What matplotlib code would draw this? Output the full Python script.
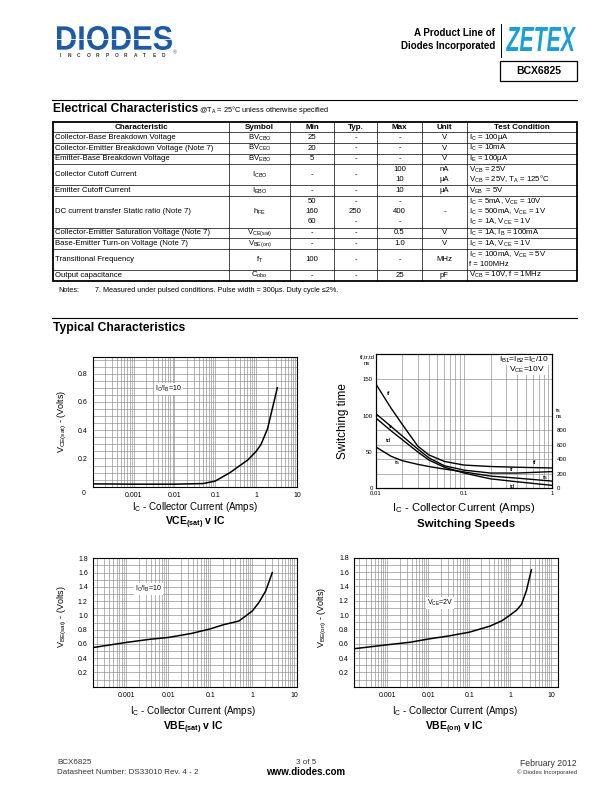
import matplotlib
matplotlib.use("Agg")
import matplotlib.pyplot as plt
import matplotlib.ticker as ticker
from matplotlib.lines import Line2D
from matplotlib.patches import Rectangle, PathPatch
from matplotlib.textpath import TextPath
from matplotlib.font_manager import FontProperties
from matplotlib.transforms import Affine2D
import numpy as np

W, H = 612, 792

# ---- Electrical characteristics table ----
col_titles = ["Characteristic", "Symbol", "Min", "Typ.", "Max", "Unit", "Test Condition"]
characteristics = [
    "Collector-Base Breakdown Voltage",
    "Collector-Emitter Breakdown Voltage (Note 7)",
    "Emitter-Base Breakdown Voltage",
    "Collector Cutoff Current",
    "Emitter Cutoff Current",
    "DC current transfer Static ratio (Note 7)",
    "Collector-Emitter Saturation Voltage (Note 7)",
    "Base-Emitter Turn-on Voltage (Note 7)",
    "Transitional Frequency",
    "Output capacitance",
]
symbols = ["BV$_{CBO}$", "BV$_{CEO}$", "BV$_{EBO}$", "I$_{CBO}$", "I$_{EBO}$",
           "h$_{FE}$", "V$_{CE(sat)}$", "V$_{BE(on)}$", "f$_T$", "C$_{obo}$"]
mins = [["25"], ["20"], ["5"], ["-"], ["-"], ["50", "160", "60"], ["-"], ["-"], ["100"], ["-"]]
typs = [["-"], ["-"], ["-"], ["-"], ["-"], ["-", "250", "-"], ["-"], ["-"], ["-"], ["-"]]
maxs = [["-"], ["-"], ["-"], ["100", "10"], ["10"], ["-", "400", "-"], ["0.5"], ["1.0"], ["-"], ["25"]]
units = [["V"], ["V"], ["V"], ["nA", "µA"], ["µA"], ["-"], ["V"], ["V"], ["MHz"], ["pF"]]
conditions = [
    ["I$_C$ = 100µA"],
    ["I$_C$ = 10mA"],
    ["I$_E$ = 100µA"],
    ["V$_{CB}$ = 25V", "V$_{CB}$ = 25V, T$_A$ = 125°C"],
    ["V$_{EB}$  = 5V"],
    ["I$_C$ = 5mA, V$_{CE}$ = 10V", "I$_C$ = 500mA, V$_{CE}$ = 1V", "I$_C$ = 1A, V$_{CE}$ = 1V"],
    ["I$_C$ = 1A, I$_B$ = 100mA"],
    ["I$_C$ = 1A, V$_{CE}$ = 1V"],
    ["I$_C$ = 100mA, V$_{CE}$ = 5V", "f = 100MHz"],
    ["V$_{CB}$ = 10V, f = 1MHz"],
]

# ---- curves ----
# VCE(sat) v IC
ic_vcesat = [1e-4, 0.001, 0.01, 0.05, 0.1, 0.23, 0.63, 1.0, 1.32, 1.9, 3.3]
vcesat = [0.02, 0.018, 0.018, 0.022, 0.04, 0.1, 0.19, 0.25, 0.3, 0.41, 0.7]

# Switching speeds (tf, tr, td on left axis, ts on right axis, ns)
ic_sw = [0.01, 0.015, 0.02, 0.03, 0.04, 0.06, 0.1, 0.2, 0.4, 1.0]
t_f = [144, 110, 88, 58, 46, 37, 32, 30, 29, 28]
t_r = [103, 85, 72, 54, 42, 31, 25, 21, 21, 23]
t_d = [97, 79, 67, 50, 39, 29, 21, 13, 9, 4]
t_s = [571, 440, 380, 330, 300, 265, 225, 168, 140, 99]

# VBE(sat) v IC
ic_vbesat = [1.7e-4, 0.001, 0.0037, 0.01, 0.035, 0.1, 0.21, 0.48, 1.0, 1.44, 2.08, 3.0]
vbesat = [0.55, 0.62, 0.665, 0.69, 0.745, 0.81, 0.87, 0.92, 1.06, 1.18, 1.34, 1.6]

# VBE(on) v IC
ic_vbeon = [1.57e-4, 0.001, 0.0036, 0.01, 0.033, 0.1, 0.32, 0.63, 1.0, 1.45, 1.9, 2.5, 3.3]
vbeon = [0.53, 0.585, 0.62, 0.665, 0.71, 0.76, 0.845, 0.92, 1.0, 1.07, 1.15, 1.34, 1.63]

decade_ticks = [1e-3, 1e-2, 1e-1, 1, 10]
decade_labels = ["0.001", "0.01", "0.1", "1", "10"]

plt.rcParams["font.family"] = ["Liberation Sans", "DejaVu Sans"]
plt.rcParams["mathtext.default"] = "regular"

fig = plt.figure(figsize=(W / 100, H / 100), dpi=100)
fig.patch.set_facecolor("white")


def fx(x):
    return x / W


def fy(y):
    return 1 - y / H


def put(x, y, s, size=6, ha="left", va="center", **kw):
    return fig.text(fx(x), fy(y), s, fontsize=size, ha=ha, va=va, **kw)


def hline(x0, x1, y, lw=0.5, color="black"):
    fig.add_artist(Line2D([fx(x0), fx(x1)], [fy(y), fy(y)], lw=lw, color=color))


def vline(x, y0, y1, lw=0.5, color="black"):
    fig.add_artist(Line2D([fx(x), fx(x)], [fy(y0), fy(y1)], lw=lw, color=color))


def logo_text(s, box, color, italic=False):
    prop = FontProperties(family="Liberation Sans", weight="bold",
                          style="italic" if italic else "normal")
    path = TextPath((0, 0), s, size=10, prop=prop)
    ext = path.get_extents()
    x0, y0, x1, y1 = box
    tr = (Affine2D().translate(-ext.x0, -ext.y0)
          .scale((x1 - x0) / ext.width / W, (y1 - y0) / ext.height / H)
          .translate(fx(x0), fy(y1)))
    fig.add_artist(PathPatch(path, transform=tr + fig.transFigure, facecolor=color, lw=0))


# ---- page header ----
logo_text("DIODES", (57, 26, 172, 50), "#1d5ba6")
hline(57, 170, 38.5, lw=0.6, color="white")
for i, ch in enumerate("INCORPORATED"):
    put(60 + i * 9.4, 55.5, ch, size=3.4, ha="center", color="#333333", weight="bold")
put(173, 53, "®", size=3.5, color="#1d5ba6")

put(495, 33, "A Product Line of", size=7, ha="right", weight="bold")
put(495, 46, "Diodes Incorporated", size=7, ha="right", weight="bold")
vline(500.5, 24, 57, lw=0.7)
logo_text("ZETEX", (506, 27, 576, 51), "#1b9fd8", italic=True)
fig.add_artist(Rectangle((fx(500), fy(81)), 77 / W, 20 / H, fill=False, lw=0.9,
                         edgecolor="black", transform=fig.transFigure))
put(538.5, 71, "BCX6825", size=7.5, ha="center", weight="bold")

# ---- Electrical characteristics ----
hline(52, 577, 100, lw=0.8)
put(53, 108.5, "Electrical Characteristics", size=8.7, weight="bold")
put(199, 109.5, "@T$_A$ = 25°C unless otherwise specified", size=5.3)

col_x = [53, 229, 290, 334, 377, 422, 467, 577]
table_top = 122.3
header_h = 10.0
line_h = 10.6
pitch = 10.0

hdr_mid = table_top + header_h / 2
for i, t in enumerate(col_titles):
    put((col_x[i] + col_x[i + 1]) / 2, hdr_mid, t, size=5.8, ha="center", weight="bold")

columns = [[[c] for c in characteristics], [[s] for s in symbols], mins, typs, maxs, units, conditions]
y = table_top + header_h
row_lines = [y]
for r in range(len(characteristics)):
    n = max(len(col[r]) for col in columns)
    h = line_h + (n - 1) * line_h
    mid = y + h / 2
    for c, col in enumerate(columns):
        cell = col[r]
        for k, txt in enumerate(cell):
            ty = mid + (k - (len(cell) - 1) / 2) * pitch
            if c in (0, 6):
                put(col_x[c] + 2, ty, txt, size=5.6)
            else:
                put((col_x[c] + col_x[c + 1]) / 2, ty, txt, size=5.6, ha="center")
    y += h
    row_lines.append(y)
table_bottom = y

for yy in row_lines[:-1]:
    hline(col_x[0], col_x[-1], yy, lw=0.5)
for xx in col_x[1:-1]:
    vline(xx, table_top, table_bottom, lw=0.5)
fig.add_artist(Rectangle((fx(col_x[0]), fy(table_bottom)), (col_x[-1] - col_x[0]) / W,
                         (table_bottom - table_top) / H, fill=False, lw=1.3,
                         edgecolor="black", transform=fig.transFigure))

put(58, table_bottom + 9.5, "Notes:", size=5.2)
put(95, table_bottom + 9.5,
    "7. Measured under pulsed conditions. Pulse width = 300µs. Duty cycle ≤2%.", size=5.2)

# ---- Typical characteristics ----
hline(52, 577, 318, lw=0.8)
put(53, 327.5, "Typical Characteristics", size=8.7, weight="bold")

GRID = dict(color="#8a8a8a", lw=0.45)


def chart(box, xlim, ylim):
    x0, y0, x1, y1 = box
    ax = fig.add_axes([fx(x0), fy(y1), (x1 - x0) / W, (y1 - y0) / H])
    ax.set_xscale("log")
    ax.set_xlim(xlim)
    ax.set_ylim(ylim)
    ax.xaxis.set_minor_locator(ticker.LogLocator(base=10, subs=np.arange(2, 10), numticks=30))
    ax.xaxis.set_minor_formatter(ticker.NullFormatter())
    ax.tick_params(which="both", length=0, labelsize=5, pad=4)
    ax.grid(which="both", axis="both", **GRID)
    ax.set_axisbelow(True)
    for s in ax.spines.values():
        s.set_linewidth(0.8)
    return ax


def decade_axis(ax):
    ax.xaxis.set_major_locator(ticker.FixedLocator(decade_ticks))
    ax.xaxis.set_major_formatter(ticker.FixedFormatter(decade_labels))


# VCE(sat) v IC
ax1 = chart((92.7, 356.7, 297, 486.7), (1e-4, 10), (0, 0.92))
decade_axis(ax1)
ax1.yaxis.set_major_locator(ticker.FixedLocator([0.2, 0.4, 0.6, 0.8]))
ax1.yaxis.set_minor_locator(ticker.MultipleLocator(0.05))
ax1.plot(ic_vcesat, vcesat, color="black", lw=1.1)
ax1.text(0.37, 0.75, "I$_C$/I$_B$=10", transform=ax1.transAxes, fontsize=5, ha="center",
         va="center", bbox=dict(facecolor="white", edgecolor="none", pad=0.8))
put(84, 493, "0", size=5, ha="center")
put(62, 421, "V$_{CE(sat)}$ - (Volts)", size=6.5, ha="center", rotation=90)
put(195, 507.5, "I$_C$ - Collector Current (Amps)", size=7, ha="center")
put(195, 522.5, "VCE$_{(sat)}$ v IC", size=7.5, ha="center", weight="bold")

# Switching speeds
ax2 = chart((375.7, 354, 552.3, 488.3), (0.01, 1), (0, 185))
ax2.xaxis.set_major_locator(ticker.FixedLocator([0.01, 0.1, 1]))
ax2.xaxis.set_major_formatter(ticker.FixedFormatter(["0.01", "0.1", "1"]))
ax2.yaxis.set_major_locator(ticker.FixedLocator([0, 50, 100, 150]))
ax2.yaxis.set_minor_locator(ticker.FixedLocator([20, 40, 60, 80]))
ax2.tick_params(which="both", labelsize=4.3, pad=2)
ax2.plot(ic_sw, t_f, color="black", lw=1.0)
ax2.plot(ic_sw, t_r, color="black", lw=1.0)
ax2.plot(ic_sw, t_d, color="black", lw=1.0)
ax2r = ax2.twinx()
ax2r.set_ylim(0, 1850)
ax2r.yaxis.set_major_locator(ticker.FixedLocator([0, 200, 400, 600, 800]))
ax2r.tick_params(length=0, labelsize=4.3, pad=3)
for s in ax2r.spines.values():
    s.set_linewidth(0.8)
ax2r.plot(ic_sw, t_s, color="black", lw=1.0)
for lbl, (px, py) in {"tf": (389, 394), "tr": (391, 426), "td": (389, 440), "ts": (397.5, 463),
                      "tf ": (535, 463), "tr ": (511.5, 469.5), "ts ": (545.5, 477.5),
                      "td ": (512.5, 486)}.items():
    put(px, py, lbl.strip(), size=4.5, ha="center")
put(549, 360, "I$_{B1}$=I$_{B2}$=I$_C$/10", size=6, ha="right",
    bbox=dict(facecolor="white", edgecolor="none", pad=0.1))
put(545, 369.5, "V$_{CE}$=10V", size=6, ha="right",
    bbox=dict(facecolor="white", edgecolor="none", pad=0.1))
put(367, 357, "tf,tr,td", size=4.2, ha="center")
put(367, 363.5, "ns", size=4.2, ha="center")
put(556, 410.5, "ts", size=4.2)
put(556, 417, "ns", size=4.2)
put(343, 421, "Switching time", size=8.5, ha="center", rotation=90)
put(464, 508, "I$_C$ - Collector Current (Amps)", size=8, ha="center")
put(466, 524, "Switching Speeds", size=8.2, ha="center", weight="bold")

# VBE(sat) v IC
ax3 = chart((93.3, 558.3, 296.7, 686.7), (1.67e-4, 11.4), (0, 1.8))
decade_axis(ax3)
ax3.yaxis.set_major_locator(ticker.FixedLocator(np.round(np.arange(0.2, 1.81, 0.2), 1)))
ax3.yaxis.set_major_formatter(ticker.FormatStrFormatter("%.1f"))
ax3.yaxis.set_minor_locator(ticker.MultipleLocator(0.1))
ax3.plot(ic_vbesat, vbesat, color="black", lw=1.1)
ax3.text(0.27, 0.76, "I$_C$/I$_B$=10", transform=ax3.transAxes, fontsize=5, ha="center",
         va="center", bbox=dict(facecolor="white", edgecolor="none", pad=0.8))
put(62, 617, "V$_{BE(sat)}$ - (Volts)", size=6.5, ha="center", rotation=90)
put(193, 710.5, "I$_C$ - Collector Current (Amps)", size=7, ha="center")
put(193, 728, "VBE$_{(sat)}$ v IC", size=7.5, ha="center", weight="bold")

# VBE(on) v IC
ax4 = chart((354.3, 557.7, 558.3, 686.7), (1.57e-4, 15), (0, 1.8))
decade_axis(ax4)
ax4.yaxis.set_major_locator(ticker.FixedLocator(np.round(np.arange(0.2, 1.81, 0.2), 1)))
ax4.yaxis.set_major_formatter(ticker.FormatStrFormatter("%.1f"))
ax4.yaxis.set_minor_locator(ticker.MultipleLocator(0.1))
ax4.plot(ic_vbeon, vbeon, color="black", lw=1.1)
ax4.text(0.42, 0.65, "V$_{CE}$=2V", transform=ax4.transAxes, fontsize=5, ha="center",
         va="center", bbox=dict(facecolor="white", edgecolor="none", pad=0.8))
put(322, 617, "V$_{BE(on)}$ - (Volts)", size=6.5, ha="center", rotation=90)
put(455, 710.5, "I$_C$ - Collector Current (Amps)", size=7, ha="center")
put(455, 728, "VBE$_{(on)}$ v IC", size=7.5, ha="center", weight="bold")

# ---- footer ----
put(57, 762, "BCX6825", size=5.8, color="#333333")
put(57, 772, "Datasheet Number: DS33010 Rev. 4 - 2", size=5.8, color="#333333")
put(306, 762, "3 of 5", size=5.8, ha="center", color="#333333")
put(306, 772, "www.diodes.com", size=7, ha="center", weight="bold")
put(577, 763, "February 2012", size=6.2, ha="right", color="#333333")
put(577, 772, "© Diodes Incorporated", size=4.3, ha="right", color="#333333")

fig.savefig("out.png", dpi=100, facecolor="white")
